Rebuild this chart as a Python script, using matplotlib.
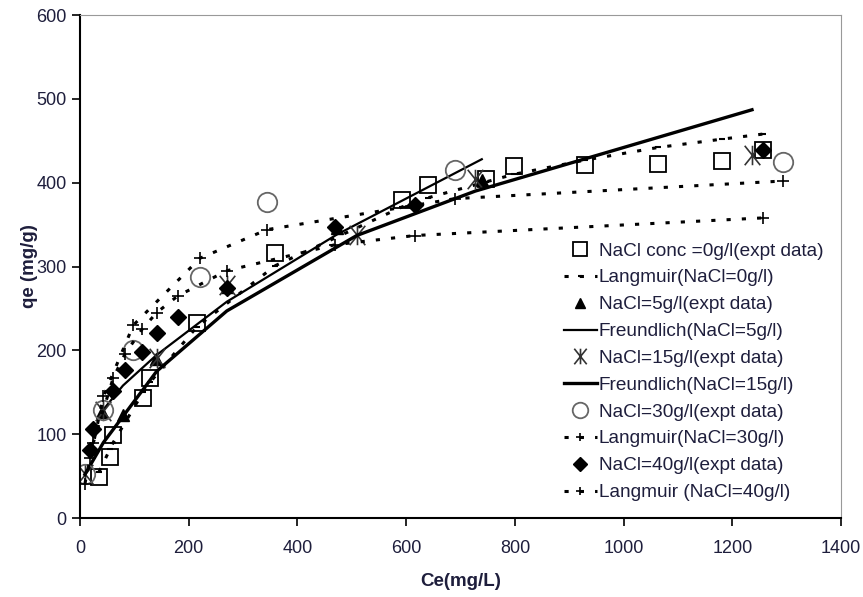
import matplotlib
matplotlib.use("Agg")
import matplotlib.pyplot as plt
from matplotlib.path import Path

plt.rcParams['font.family'] = ['Liberation Sans', 'DejaVu Sans']
plt.rcParams['lines.scale_dashes'] = False

TXT = '#1e1e3c'

# NaCl = 0 g/l
ce_0 = [35, 55, 61, 116, 129, 215, 359, 592, 640, 747, 798, 929, 1063, 1181, 1256]
qe_0 = [49, 73, 99, 143, 167, 233, 316, 379, 397, 404, 420, 421, 422, 426, 439]
lang_0 = [55, 82, 90, 150, 162, 228, 301, 371, 382, 401, 410, 427, 442, 452, 458]

# NaCl = 5 g/l
ce_5 = [40, 79, 140, 270, 472, 739]
qe_5 = [126, 123, 190, 276, 346, 403]
freu_5 = [127, 158, 194, 258, 338, 428]

# NaCl = 15 g/l
ce_15 = [9, 43, 141, 270, 509, 727, 1236]
qe_15 = [53, 128, 191, 278, 338, 405, 433]
freu_15 = [52, 90, 175, 247, 337, 390, 487]

# NaCl = 30 g/l
ce_30 = [9, 43, 98, 221, 344, 690, 1293]
qe_30 = [53, 129, 200, 288, 377, 415, 425]
lang_30 = [41, 145, 230, 310, 344, 381, 402]

# NaCl = 40 g/l
ce_40 = [18, 24, 61, 83, 114, 141, 180, 270, 469, 616, 1256]
qe_40 = [81, 106, 151, 177, 198, 221, 240, 274, 347, 373, 439]
lang_40 = [71, 89, 167, 196, 225, 245, 265, 295, 326, 337, 358]

x_ticks = [0, 200, 400, 600, 800, 1000, 1200, 1400]
y_ticks = [0, 100, 200, 300, 400, 500, 600]

# excel-style asterisk: an X with a vertical bar through it
asterisk = Path([(-0.8, -1), (0.8, 1), (-0.8, 1), (0.8, -1), (0, -1), (0, 1)],
                [Path.MOVETO, Path.LINETO, Path.MOVETO, Path.LINETO,
                 Path.MOVETO, Path.LINETO])

dash = (0, (3, 8))

fig = plt.figure(figsize=(8.63, 5.97), dpi=100)
ax = fig.add_axes([0.0927, 0.1323, 0.882, 0.8425])

ax.plot(ce_0, qe_0, ls='none', marker='s', ms=12, mfc='white', mec='black',
        mew=1.3, label='NaCl conc =0g/l(expt data)')
ax.plot(ce_0, lang_0, color='black', lw=2.2, ls=dash, marker='_', ms=4, mew=1.5,
        label='Langmuir(NaCl=0g/l)')
ax.plot(ce_5, qe_5, ls='none', marker='^', ms=9, color='black',
        label='NaCl=5g/l(expt data)')
ax.plot(ce_5, freu_5, color='black', lw=1.6, label='Freundlich(NaCl=5g/l)')
ax.plot(ce_15, qe_15, ls='none', marker=asterisk, ms=14, mfc='none', mec='#333333',
        mew=1.2, label='NaCl=15g/l(expt data)')
ax.plot(ce_15, freu_15, color='black', lw=2.4, label='Freundlich(NaCl=15g/l)')
ax.plot(ce_30, qe_30, ls='none', marker='o', ms=14, mfc='none', mec='#666666',
        mew=1.3, label='NaCl=30g/l(expt data)')
ax.plot(ce_30, lang_30, color='black', lw=2.2, ls=dash, marker='+', ms=8, mew=1.2,
        label='Langmuir(NaCl=30g/l)')
ax.plot(ce_40, qe_40, ls='none', marker='D', ms=8.5, color='black',
        label='NaCl=40g/l(expt data)')
ax.plot(ce_40, lang_40, color='black', lw=2.2, ls=dash, marker='+', ms=8, mew=1.2,
        label='Langmuir (NaCl=40g/l)')

ax.set_xlim(0, 1400)
ax.set_ylim(0, 600)
ax.set_xticks(x_ticks)
ax.set_yticks(y_ticks)
ax.tick_params(direction='out', length=6, width=1.2, colors='black',
               labelcolor=TXT, labelsize=13)
ax.tick_params(axis='x', pad=10)

for side in ['left', 'bottom']:
    ax.spines[side].set_linewidth(1.5)
for side in ['top', 'right']:
    ax.spines[side].set_color('#999999')
    ax.spines[side].set_linewidth(0.8)

ax.set_xlabel('Ce(mg/L)', fontsize=13.5, fontweight='bold', color=TXT, labelpad=11)
ax.set_ylabel('qe (mg/g)', fontsize=13.5, fontweight='bold', color=TXT, labelpad=-1)

leg = ax.legend(loc='upper left', bbox_to_anchor=(0.623, 0.567), frameon=False,
                fontsize=13.7, handlelength=1.75, handletextpad=0.1,
                labelspacing=0.5, borderpad=0, markerscale=0.8)
for t in leg.get_texts():
    t.set_color(TXT)

fig.savefig('out.png', dpi=100)
